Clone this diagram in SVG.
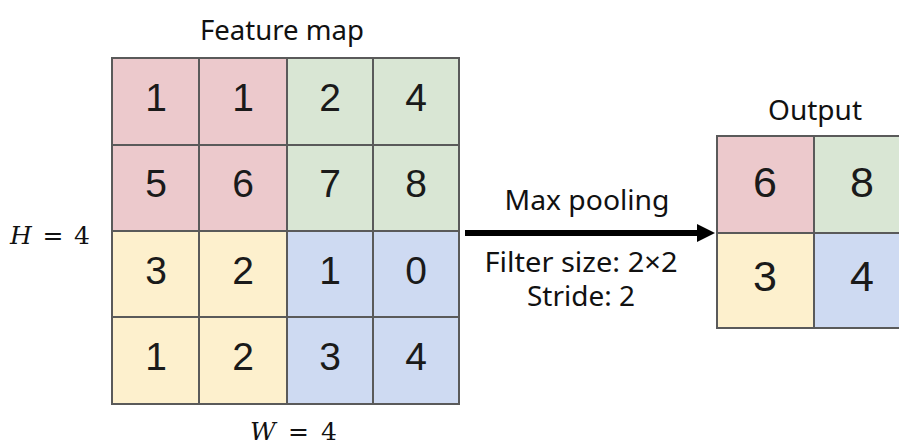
<svg xmlns="http://www.w3.org/2000/svg" width="899" height="446" viewBox="0 0 899 446">
  <style>
    .cell { stroke: #5a5a5a; stroke-width: 2; }
    .red { fill: #ecc9cc; }
    .green { fill: #d9e6d4; }
    .yellow { fill: #fdf0cd; }
    .blue { fill: #cedaf2; }
    .num { font-family: "Liberation Sans", Arial, sans-serif; font-size: 39px; fill: #1a1a1a; text-anchor: middle; }
    .onum { font-size: 43px; }
    .label { font-family: "Noto Sans", "Liberation Sans", sans-serif; font-size: 27px; fill: #111; text-anchor: middle; }
    .math { font-family: "DejaVu Serif", "Liberation Serif", serif; font-size: 25px; fill: #111; }
  </style>
  <defs>
    <marker id="arrowhead" markerWidth="3" markerHeight="3" refX="0" refY="1.5" orient="auto" markerUnits="strokeWidth">
      <path d="M0,0 L3,1.5 L0,3 Z" fill="#000"/>
    </marker>
  </defs>
  <rect width="899" height="446" fill="#fff"/>

  <!-- input feature map -->
  <g id="feature-map">
    <text class="label" x="282" y="40" textLength="164" lengthAdjust="spacingAndGlyphs">Feature map</text>
    <rect class="cell red" x="112" y="58" width="87" height="87"/>
    <rect class="cell red" x="199" y="58" width="88" height="87"/>
    <rect class="cell green" x="287" y="58" width="86" height="87"/>
    <rect class="cell green" x="373" y="58" width="86" height="87"/>
    <rect class="cell red" x="112" y="145" width="87" height="86"/>
    <rect class="cell red" x="199" y="145" width="88" height="86"/>
    <rect class="cell green" x="287" y="145" width="86" height="86"/>
    <rect class="cell green" x="373" y="145" width="86" height="86"/>
    <rect class="cell yellow" x="112" y="231" width="87" height="86"/>
    <rect class="cell yellow" x="199" y="231" width="88" height="86"/>
    <rect class="cell blue" x="287" y="231" width="86" height="86"/>
    <rect class="cell blue" x="373" y="231" width="86" height="86"/>
    <rect class="cell yellow" x="112" y="317" width="87" height="87"/>
    <rect class="cell yellow" x="199" y="317" width="88" height="87"/>
    <rect class="cell blue" x="287" y="317" width="86" height="87"/>
    <rect class="cell blue" x="373" y="317" width="86" height="87"/>

    <text class="num" x="156" y="111">1</text>
    <text class="num" x="243" y="111">1</text>
    <text class="num" x="330" y="111">2</text>
    <text class="num" x="416" y="111">4</text>
    <text class="num" x="156" y="197">5</text>
    <text class="num" x="243" y="197">6</text>
    <text class="num" x="330" y="197">7</text>
    <text class="num" x="416" y="197">8</text>
    <text class="num" x="156" y="284">3</text>
    <text class="num" x="243" y="284">2</text>
    <text class="num" x="330" y="284">1</text>
    <text class="num" x="416" y="284">0</text>
    <text class="num" x="156" y="370">1</text>
    <text class="num" x="243" y="370">2</text>
    <text class="num" x="330" y="370">3</text>
    <text class="num" x="416" y="370">4</text>
  </g>

  <!-- dimension labels -->
  <g id="dims">
    <text class="math" x="10" y="244" textLength="80" lengthAdjust="spacing"><tspan font-style="italic">H</tspan> = 4</text>
    <text class="math" x="250" y="440" textLength="87" lengthAdjust="spacing"><tspan font-style="italic">W</tspan> = 4</text>
  </g>

  <!-- pooling operation -->
  <g id="connectors">
    <line x1="465" y1="233" x2="697" y2="233" stroke="#000" stroke-width="6" marker-end="url(#arrowhead)"/>
  </g>
  <g id="pooling-labels">
    <text class="label" x="587" y="210" textLength="165" lengthAdjust="spacingAndGlyphs">Max pooling</text>
    <text class="label" x="581" y="272" textLength="193" lengthAdjust="spacingAndGlyphs">Filter size: 2×2</text>
    <text class="label" x="581" y="306" textLength="108" lengthAdjust="spacingAndGlyphs">Stride: 2</text>
  </g>

  <!-- pooled output -->
  <g id="output">
    <text class="label" x="815" y="120" textLength="94" lengthAdjust="spacingAndGlyphs">Output</text>
    <rect class="cell red" x="717" y="136" width="97" height="97"/>
    <rect class="cell green" x="814" y="136" width="97" height="97"/>
    <rect class="cell yellow" x="717" y="233" width="97" height="95"/>
    <rect class="cell blue" x="814" y="233" width="97" height="95"/>
    <text class="num onum" x="765" y="197">6</text>
    <text class="num onum" x="862" y="197">8</text>
    <text class="num onum" x="765" y="291">3</text>
    <text class="num onum" x="862" y="291">4</text>
  </g>
</svg>
